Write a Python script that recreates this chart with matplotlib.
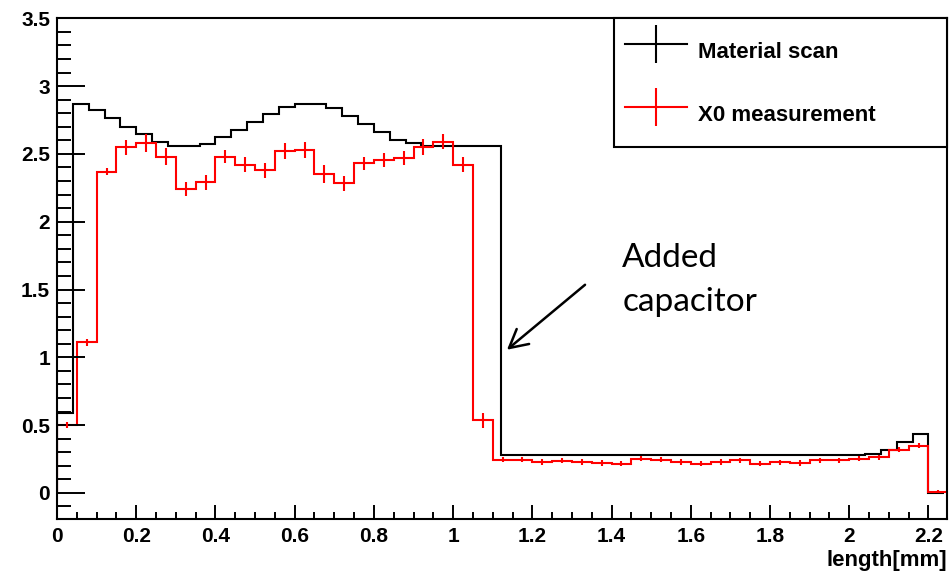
import numpy as np
import matplotlib
matplotlib.use("Agg")
import matplotlib.pyplot as plt
from matplotlib.lines import Line2D
from matplotlib.ticker import MultipleLocator, FuncFormatter

# ---------------- data ----------------
# Material scan (black histogram), bin width 0.04 mm
scan_bin_width = 0.04
scan_values = [
    0.59, 2.867, 2.825, 2.763, 2.700, 2.645, 2.590, 2.556, 2.555, 2.574,
    2.628, 2.677, 2.736, 2.793, 2.849, 2.867, 2.867, 2.836, 2.776, 2.720,
    2.660, 2.600, 2.580, 2.560, 2.560, 2.560, 2.560, 2.560,
    0.277, 0.277, 0.277, 0.277, 0.277, 0.277, 0.277, 0.277, 0.277, 0.277,
    0.277, 0.277, 0.277, 0.277, 0.277, 0.277, 0.277, 0.277, 0.277, 0.277,
    0.277, 0.277, 0.277,
    0.290, 0.319, 0.378, 0.435, 0.0,
]

# X0 measurement (red histogram with error bars), bin width 0.05 mm
x0_bin_width = 0.05
x0_values = [
    0.50, 1.11, 2.37, 2.55, 2.58, 2.48, 2.24, 2.29, 2.48, 2.42,
    2.38, 2.52, 2.53, 2.35, 2.285, 2.43, 2.455, 2.47, 2.55, 2.59,
    2.42, 0.535, 0.245, 0.245, 0.228, 0.238, 0.228, 0.222, 0.216, 0.253,
    0.245, 0.228, 0.216, 0.228, 0.240, 0.216, 0.226, 0.221, 0.240, 0.240,
    0.253, 0.262, 0.319, 0.349, 0.010,
]
x0_errors = [
    0.022, 0.025, 0.028, 0.055, 0.065, 0.060, 0.054, 0.055, 0.050, 0.054,
    0.055, 0.060, 0.060, 0.065, 0.055, 0.050, 0.055, 0.055, 0.058, 0.055,
    0.055, 0.055, 0.020, 0.020, 0.020, 0.020, 0.020, 0.020, 0.020, 0.020,
    0.020, 0.020, 0.020, 0.020, 0.020, 0.020, 0.020, 0.020, 0.020, 0.020,
    0.020, 0.020, 0.020, 0.020, 0.010,
]

legend_labels = ["Material scan", "X0 measurement"]
x_label = "length[mm]"
annotation_lines = ["Added", "capacitor"]

# ---------------- derived bin geometry ----------------
scan_edges = np.arange(len(scan_values) + 1) * scan_bin_width
x0_edges = np.arange(len(x0_values) + 1) * x0_bin_width
x0_centers = 0.5 * (x0_edges[:-1] + x0_edges[1:])

# ---------------- figure ----------------
W, H = 951, 572
fig = plt.figure(figsize=(W / 100, H / 100), dpi=100)
left_px, right_px, top_px, bottom_px = 57, 946.7, 18.3, 518.7
ax = fig.add_axes([left_px / W, 1 - bottom_px / H,
                   (right_px - left_px) / W, (bottom_px - top_px) / H])

LW = 1.5
ax.stairs(scan_values, scan_edges, color="black", lw=LW)
ax.stairs(x0_values, x0_edges, color="red", lw=LW)
ax.errorbar(x0_centers, x0_values, yerr=x0_errors, fmt="none",
            ecolor="red", elinewidth=LW, capsize=0)

ax.set_xlim(0, 2.246)
ax.set_ylim(-0.19, 3.5)

for s in ax.spines.values():
    s.set_linewidth(1.5)
    s.set_color("black")

ax.xaxis.set_major_locator(MultipleLocator(0.2))
ax.xaxis.set_minor_locator(MultipleLocator(0.05))
ax.yaxis.set_major_locator(MultipleLocator(0.5))
ax.yaxis.set_minor_locator(MultipleLocator(0.1))
fmt = FuncFormatter(lambda v, p: ("%g" % round(v, 3)))
ax.xaxis.set_major_formatter(fmt)
ax.yaxis.set_major_formatter(fmt)

ax.tick_params(axis="both", which="both", direction="in", top=False,
               right=False, width=1.4, color="black")
ax.tick_params(axis="y", which="major", length=20, pad=5)
ax.tick_params(axis="y", which="minor", length=10)
ax.tick_params(axis="x", which="major", length=10, pad=6)
ax.tick_params(axis="x", which="minor", length=5)
for lab in ax.get_xticklabels() + ax.get_yticklabels():
    lab.set_fontfamily("Liberation Sans")
    lab.set_fontweight("bold")
    lab.set_fontsize(15)

ax.set_xlabel(x_label, fontsize=16, fontweight="bold",
              family="Liberation Sans", loc="right", labelpad=3)

handles = [
    Line2D([], [], color="black", lw=LW, marker="|", markersize=28,
           markeredgewidth=LW),
    Line2D([], [], color="red", lw=LW, marker="|", markersize=28,
           markeredgewidth=LW),
]
leg = ax.legend(handles, legend_labels, loc="upper left",
                bbox_to_anchor=(0.626, 0, 0.374, 1), mode="expand",
                borderaxespad=0, borderpad=0.5, handlelength=2.8,
                handletextpad=0.5, handleheight=2.6, labelspacing=0.92,
                numpoints=1, fancybox=False, framealpha=1,
                edgecolor="black",
                prop=dict(family="Liberation Sans", weight="bold", size=16))
leg.get_frame().set_linewidth(1.5)

ax.annotate("", xy=(1.136, 1.056), xytext=(1.333, 1.535),
            arrowprops=dict(arrowstyle="->,head_length=1.3,head_width=0.7",
                            color="black", lw=1.8, shrinkA=0, shrinkB=0,
                            mutation_scale=10),
            annotation_clip=False)
ax.text(1.427, 1.665, annotation_lines[0], fontsize=24, family="Lato",
        va="baseline", ha="left")
ax.text(1.427, 1.338, annotation_lines[1], fontsize=24, family="Lato",
        va="baseline", ha="left")

fig.savefig("out.png", dpi=100)
